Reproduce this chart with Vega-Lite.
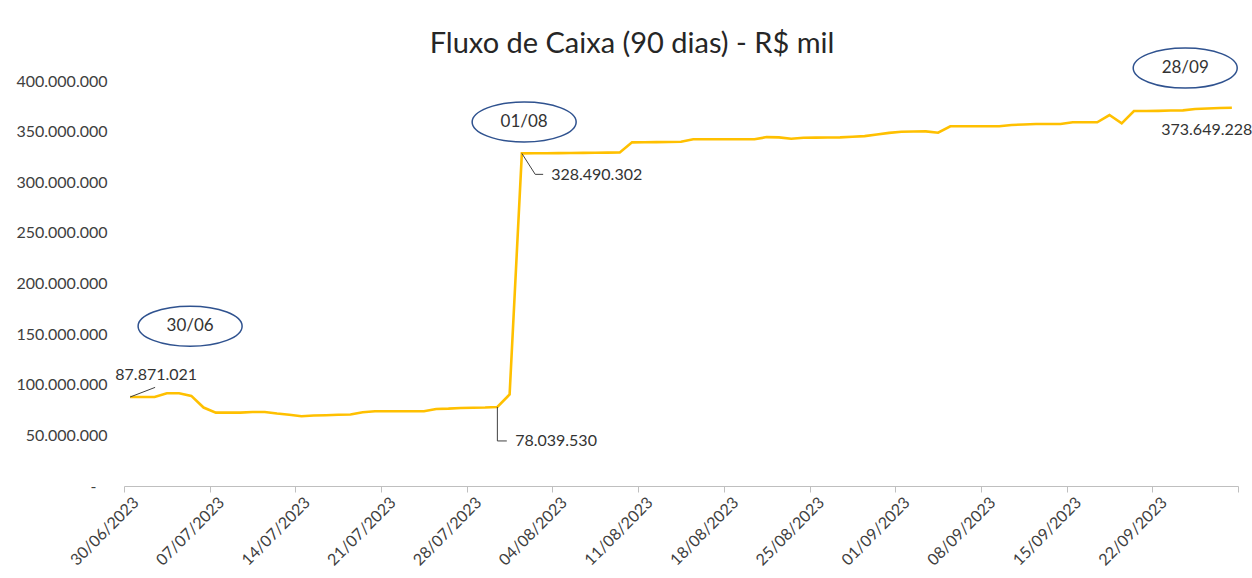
{
  "$schema": "https://vega.github.io/schema/vega-lite/v6.json",
  "autosize": {"type": "none"},
  "padding": {"left": 124, "top": 81, "right": 14, "bottom": 92},
  "width": 1114,
  "height": 405,
  "background": "white",
  "title": {
    "text": "Fluxo de Caixa (90 dias) - R$ mil",
    "font": "Lato",
    "fontSize": 29,
    "fontWeight": "normal",
    "color": "#262626",
    "anchor": "middle",
    "dx": -49,
    "dy": 18
  },
  "config": {
    "view": {"stroke": null},
    "font": "Lato",
    "locale": {"number": {"decimal": ",", "thousands": ".", "grouping": [3], "currency": ["R$ ", ""]}}
  },
  "datasets": {
    "fluxo": [
      {"data": "2023-06-30T00:00", "valor": 87871021},
      {"data": "2023-07-01T00:00", "valor": 87900000},
      {"data": "2023-07-02T00:00", "valor": 87900000},
      {"data": "2023-07-03T00:00", "valor": 91600000},
      {"data": "2023-07-04T00:00", "valor": 91600000},
      {"data": "2023-07-05T00:00", "valor": 89000000},
      {"data": "2023-07-06T00:00", "valor": 77500000},
      {"data": "2023-07-07T00:00", "valor": 72500000},
      {"data": "2023-07-08T00:00", "valor": 72500000},
      {"data": "2023-07-09T00:00", "valor": 72500000},
      {"data": "2023-07-10T00:00", "valor": 73100000},
      {"data": "2023-07-11T00:00", "valor": 73100000},
      {"data": "2023-07-12T00:00", "valor": 71600000},
      {"data": "2023-07-13T00:00", "valor": 70400000},
      {"data": "2023-07-14T00:00", "valor": 68900000},
      {"data": "2023-07-15T00:00", "valor": 69600000},
      {"data": "2023-07-16T00:00", "valor": 69900000},
      {"data": "2023-07-17T00:00", "valor": 70300000},
      {"data": "2023-07-18T00:00", "valor": 70600000},
      {"data": "2023-07-19T00:00", "valor": 72800000},
      {"data": "2023-07-20T00:00", "valor": 73800000},
      {"data": "2023-07-21T00:00", "valor": 73800000},
      {"data": "2023-07-22T00:00", "valor": 73800000},
      {"data": "2023-07-23T00:00", "valor": 73800000},
      {"data": "2023-07-24T00:00", "valor": 73800000},
      {"data": "2023-07-25T00:00", "valor": 76100000},
      {"data": "2023-07-26T00:00", "valor": 76400000},
      {"data": "2023-07-27T00:00", "valor": 77000000},
      {"data": "2023-07-28T00:00", "valor": 77300000},
      {"data": "2023-07-29T00:00", "valor": 77500000},
      {"data": "2023-07-30T00:00", "valor": 78039530},
      {"data": "2023-07-31T00:00", "valor": 90400000},
      {"data": "2023-08-01T00:00", "valor": 328490302},
      {"data": "2023-08-02T00:00", "valor": 328600000},
      {"data": "2023-08-03T00:00", "valor": 328700000},
      {"data": "2023-08-04T00:00", "valor": 328800000},
      {"data": "2023-08-05T00:00", "valor": 328900000},
      {"data": "2023-08-06T00:00", "valor": 329000000},
      {"data": "2023-08-07T00:00", "valor": 329200000},
      {"data": "2023-08-08T00:00", "valor": 329300000},
      {"data": "2023-08-09T00:00", "valor": 329500000},
      {"data": "2023-08-10T00:00", "valor": 339400000},
      {"data": "2023-08-11T00:00", "valor": 339500000},
      {"data": "2023-08-12T00:00", "valor": 339600000},
      {"data": "2023-08-13T00:00", "valor": 339700000},
      {"data": "2023-08-14T00:00", "valor": 340000000},
      {"data": "2023-08-15T00:00", "valor": 342400000},
      {"data": "2023-08-16T00:00", "valor": 342400000},
      {"data": "2023-08-17T00:00", "valor": 342400000},
      {"data": "2023-08-18T00:00", "valor": 342400000},
      {"data": "2023-08-19T00:00", "valor": 342400000},
      {"data": "2023-08-20T00:00", "valor": 342400000},
      {"data": "2023-08-21T00:00", "valor": 344600000},
      {"data": "2023-08-22T00:00", "valor": 344300000},
      {"data": "2023-08-23T00:00", "valor": 343000000},
      {"data": "2023-08-24T00:00", "valor": 344000000},
      {"data": "2023-08-25T00:00", "valor": 344100000},
      {"data": "2023-08-26T00:00", "valor": 344200000},
      {"data": "2023-08-27T00:00", "valor": 344300000},
      {"data": "2023-08-28T00:00", "valor": 344900000},
      {"data": "2023-08-29T00:00", "valor": 345600000},
      {"data": "2023-08-30T00:00", "valor": 347100000},
      {"data": "2023-08-31T00:00", "valor": 348800000},
      {"data": "2023-09-01T00:00", "valor": 349900000},
      {"data": "2023-09-02T00:00", "valor": 350100000},
      {"data": "2023-09-03T00:00", "valor": 350200000},
      {"data": "2023-09-04T00:00", "valor": 348900000},
      {"data": "2023-09-05T00:00", "valor": 355300000},
      {"data": "2023-09-06T00:00", "valor": 355300000},
      {"data": "2023-09-07T00:00", "valor": 355300000},
      {"data": "2023-09-08T00:00", "valor": 355300000},
      {"data": "2023-09-09T00:00", "valor": 355300000},
      {"data": "2023-09-10T00:00", "valor": 356500000},
      {"data": "2023-09-11T00:00", "valor": 357100000},
      {"data": "2023-09-12T00:00", "valor": 357500000},
      {"data": "2023-09-13T00:00", "valor": 357500000},
      {"data": "2023-09-14T00:00", "valor": 357500000},
      {"data": "2023-09-15T00:00", "valor": 359200000},
      {"data": "2023-09-16T00:00", "valor": 359200000},
      {"data": "2023-09-17T00:00", "valor": 359200000},
      {"data": "2023-09-18T00:00", "valor": 366400000},
      {"data": "2023-09-19T00:00", "valor": 358200000},
      {"data": "2023-09-20T00:00", "valor": 370300000},
      {"data": "2023-09-21T00:00", "valor": 370300000},
      {"data": "2023-09-22T00:00", "valor": 370500000},
      {"data": "2023-09-23T00:00", "valor": 370800000},
      {"data": "2023-09-24T00:00", "valor": 371000000},
      {"data": "2023-09-25T00:00", "valor": 372300000},
      {"data": "2023-09-26T00:00", "valor": 372800000},
      {"data": "2023-09-27T00:00", "valor": 373300000},
      {"data": "2023-09-28T00:00", "valor": 373649228}
    ],
    "guias": [
      {"t1": "2023-06-30T12:00", "v1": 87871021, "t2": "2023-07-02T13:00", "v2": 97400000},
      {"t1": "2023-07-30T12:00", "v1": 78039530, "t2": "2023-07-30T12:00", "v2": 44500000},
      {"t1": "2023-07-30T12:00", "v1": 44500000, "t2": "2023-07-31T06:30", "v2": 44500000},
      {"t1": "2023-08-01T12:00", "v1": 328490302, "t2": "2023-08-02T14:10", "v2": 307800000},
      {"t1": "2023-08-02T14:10", "v1": 307800000, "t2": "2023-08-03T05:45", "v2": 307800000}
    ],
    "rotulos": [
      {"t": "2023-07-05T23:20", "v": 109400000, "texto": "87.871.021"},
      {"t": "2023-07-31T22:50", "v": 44200000, "texto": "78.039.530"},
      {"t": "2023-08-03T21:25", "v": 307100000, "texto": "328.490.302"},
      {"t": "2023-09-22T17:30", "v": 351600000, "texto": "373.649.228"}
    ],
    "elipses": [
      {"t": "2023-07-05T09:36", "v": 157800000, "rotulo": "30/06"},
      {"t": "2023-08-01T16:30", "v": 359500000, "rotulo": "01/08"},
      {"t": "2023-09-24T16:30", "v": 412800000, "rotulo": "28/09"}
    ]
  },
  "layer": [
    {
      "data": {"name": "fluxo"},
      "mark": {"type": "line", "color": "#FFC000", "strokeWidth": 2.6, "interpolate": "linear"},
      "encoding": {
        "x": {
          "field": "data", "type": "temporal", "timeUnit": "yearmonthdate", "bandPosition": 0.5,
          "scale": {"domain": [{"year": 2023, "month": 6, "date": 30}, {"year": 2023, "month": 9, "date": 29}]},
          "axis": {
            "title": null,
            "grid": false,
            "values": [
              {"year": 2023, "month": 6, "date": 30},
              {"year": 2023, "month": 7, "date": 7},
              {"year": 2023, "month": 7, "date": 14},
              {"year": 2023, "month": 7, "date": 21},
              {"year": 2023, "month": 7, "date": 28},
              {"year": 2023, "month": 8, "date": 4},
              {"year": 2023, "month": 8, "date": 11},
              {"year": 2023, "month": 8, "date": 18},
              {"year": 2023, "month": 8, "date": 25},
              {"year": 2023, "month": 9, "date": 1},
              {"year": 2023, "month": 9, "date": 8},
              {"year": 2023, "month": 9, "date": 15},
              {"year": 2023, "month": 9, "date": 22},
              {"year": 2023, "month": 9, "date": 29}
            ],
            "labelExpr": "datum.value >= datetime(2023, 8, 29) ? '' : timeFormat(datum.value, '%d/%m/%Y')",
            "labelAngle": -45,
            "labelFont": "Lato",
            "labelFontSize": 16,
            "labelColor": "#404040",
            "labelPadding": 2,
            "labelOffset": 6,
            "labelOverlap": false,
            "labelBound": false,
            "labelFlush": false,
            "domainColor": "#BFBFBF",
            "domainWidth": 1,
            "tickColor": "#BFBFBF",
            "tickSize": 6
          }
        },
        "y": {
          "field": "valor", "type": "quantitative",
          "scale": {"domain": [0, 400000000], "nice": false, "zero": true},
          "axis": {
            "title": null,
            "grid": false,
            "domain": false,
            "ticks": false,
            "values": [0, 50000000, 100000000, 150000000, 200000000, 250000000, 300000000, 350000000, 400000000],
            "format": ",.0f",
            "labelExpr": "datum.value == 0 ? '-' : datum.label",
            "labelFont": "Lato",
            "labelFontSize": 16,
            "labelColor": "#404040",
            "labelPadding": {"condition": {"test": "datum.value == 0", "value": 28}, "value": 17}
          }
        }
      }
    },
    {
      "data": {"name": "guias"},
      "mark": {"type": "rule", "color": "#404040", "strokeWidth": 1},
      "encoding": {
        "x": {"field": "t1", "type": "temporal"},
        "x2": {"field": "t2"},
        "y": {"field": "v1", "type": "quantitative"},
        "y2": {"field": "v2"}
      }
    },
    {
      "data": {"name": "rotulos"},
      "transform": [{"filter": "datum.texto == '87.871.021'"}],
      "mark": {"type": "text", "align": "right", "baseline": "middle", "font": "Lato", "fontSize": 16, "color": "#333333"},
      "encoding": {
        "x": {"field": "t", "type": "temporal"},
        "y": {"field": "v", "type": "quantitative"},
        "text": {"field": "texto"}
      }
    },
    {
      "data": {"name": "rotulos"},
      "transform": [{"filter": "datum.texto != '87.871.021'"}],
      "mark": {"type": "text", "align": "left", "baseline": "middle", "font": "Lato", "fontSize": 16, "color": "#333333"},
      "encoding": {
        "x": {"field": "t", "type": "temporal"},
        "y": {"field": "v", "type": "quantitative"},
        "text": {"field": "texto"}
      }
    },
    {
      "data": {"name": "elipses"},
      "mark": {
        "type": "point",
        "shape": "M -1 0 A 1 0.385 0 1 1 1 0 A 1 0.385 0 1 1 -1 0 Z",
        "size": 10816,
        "filled": false,
        "stroke": "#2F528F",
        "strokeWidth": 1.5,
        "opacity": 1
      },
      "encoding": {
        "x": {"field": "t", "type": "temporal"},
        "y": {"field": "v", "type": "quantitative"}
      }
    },
    {
      "data": {"name": "elipses"},
      "mark": {"type": "text", "align": "center", "baseline": "middle", "font": "Lato", "fontSize": 17, "color": "#333333"},
      "encoding": {
        "x": {"field": "t", "type": "temporal"},
        "y": {"field": "v", "type": "quantitative"},
        "text": {"field": "rotulo"}
      }
    }
  ]
}
